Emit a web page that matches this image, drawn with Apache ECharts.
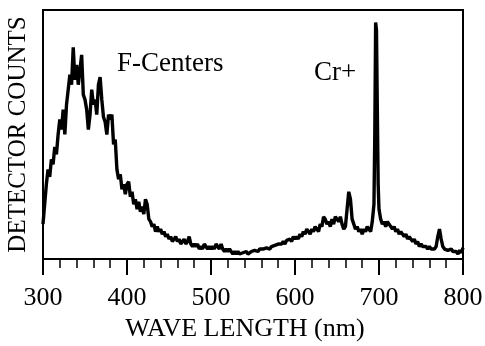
<!DOCTYPE html>
<html>
<head>
<meta charset="utf-8">
<script src="https://cdn.jsdelivr.net/npm/echarts@6/dist/echarts.min.js"></script>
<style>html,body{margin:0;padding:0;background:#fff}#c{width:485px;height:346px}</style>
</head>
<body>
<div id="c"></div>
<script>
// Wavelength (nm) sample points
const wavelength = [300,302,304,306,308,310,312,314,316,318,320,322,324,326,328,330,332,334,336,338,340,342,344,346,348,350,352,354,356,358,360,362,364,366,368,370,372,374,376,378,380,382,384,386,388,390,392,394,396,398,400,402,404,406,408,410,412,414,416,418,420,422,424,426,428,430,432,434,436,438,440,442,444,446,448,450,452,454,456,458,460,462,464,466,468,470,472,474,476,478,480,482,484,486,488,490,492,494,496,498,500,502,504,506,508,510,512,514,516,518,520,522,524,526,528,530,532,534,536,538,540,542,544,546,548,550,552,554,556,558,560,562,564,566,568,570,572,574,576,578,580,582,584,586,588,590,592,594,596,598,600,602,604,606,608,610,612,614,616,618,620,622,624,626,628,630,632,634,636,638,640,642,644,646,648,650,652,654,656,658,660,662,664,666,668,670,672,674,676,678,680,682,684,686,688,690,692,694,695,696,697,698,699,700,702,704,706,708,710,712,714,716,718,720,722,724,726,728,730,732,734,736,738,740,742,744,746,748,750,752,754,756,758,760,762,764,766,768,770,772,774,776,778,780,782,784,786,788,790,792,794,796,798,800];
// Detector counts (arbitrary units)
const counts = [14,22,30,36,33,40,38,45,42,50,56,52,60,50,62,68,74,70,85,72,78,70,76,82,66,64,60,52,58,68,62,64,58,70,73,64,57,55,50,58,56,58,46,48,36,32,34,28,30,26,30,31,25,27,22,24,20,23,19,21,18,24,22,16,15,13,14,11,13,11,12,10,11,9,10,8,9,7,8,9,7,8,6,7,8,6,7,9,6,5,6,5,6,4,5,4,6,5,4,5,4,5,4,6,5,4,6,4,3,4,3,4,3,2,3,2,3,2,1.5,2.5,2,3,2,2.5,3,2.5,3.5,3,3,4,3.5,4,3.5,4.5,5,4,5,4.5,5.5,5,6,5.5,6,7,6,7.5,7,8,7,9,8,9,8,10,9,11,10,12,11,10,12,11,13,12,11,14,13,17,16,14,15,13,16,14,17,16,15,17,14,12,13,20,27,24,16,14,12,13,11,12,10,12,11,13,12,11,15,22,50,95,92,60,30,20,16,14,15,13,15,14,13,12,13,11,12,10,11,10,9,10,8,9,8,7,8,6,7,5,6,5,4.5,5,4,5,4,4.5,4,5,9,12,8,5,4,4.5,3.5,3,4,3,2.5,3,2,3.5,2.5,4.5];
const xTicks = [300,400,500,600,700,800];
const xTitle = 'WAVE LENGTH (nm)';
const yTitle = 'DETECTOR COUNTS';
const notes = ['F-Centers','Cr+'];

const serif = "'Liberation Serif','DejaVu Serif',serif";
const chart = echarts.init(document.getElementById('c'));
chart.setOption({
  animation: false,
  backgroundColor: '#fff',
  grid: {left: 43, right: 22, top: 10, bottom: 87, show: true, borderColor: '#000', borderWidth: 2,
         containLabel: false, outerBoundsMode: 'none'},
  xAxis: {
    type: 'value', min: xTicks[0], max: xTicks[xTicks.length-1], interval: 100,
    name: xTitle, nameLocation: 'middle', nameGap: 56,
    nameTextStyle: {fontFamily: serif, fontSize: 26, color: '#000', padding: [0, 16, 0, 0]},
    axisLine: {show: true, lineStyle: {color: '#000', width: 2}},
    axisTick: {show: true, inside: false, length: 16, lineStyle: {color: '#000', width: 2}},
    minorTick: {show: true, splitNumber: 5, length: 9, lineStyle: {color: '#000', width: 1.5}},
    axisLabel: {fontFamily: serif, fontSize: 26, color: '#000', margin: 26},
    splitLine: {show: false}
  },
  yAxis: {
    type: 'value', min: 0, max: 100,
    name: yTitle, nameLocation: 'middle', nameGap: 12, nameRotate: 90,
    nameTextStyle: {fontFamily: serif, fontSize: 25, color: '#000'},
    axisLine: {show: true, lineStyle: {color: '#000', width: 2}},
    axisTick: {show: false}, axisLabel: {show: false}, splitLine: {show: false}
  },
  graphic: [
    {type: 'text', left: 117, top: 50, style: {text: notes[0], font: "27px " + serif, fill: '#000'}},
    {type: 'text', left: 314, top: 59, style: {text: notes[1], font: "27px " + serif, fill: '#000'}}
  ],
  series: [{
    type: 'line', showSymbol: false, symbol: 'none',
    data: wavelength.map((w, i) => [w, counts[i]]),
    lineStyle: {color: '#000', width: 3.4}
  }]
});
</script>
</body>
</html>
